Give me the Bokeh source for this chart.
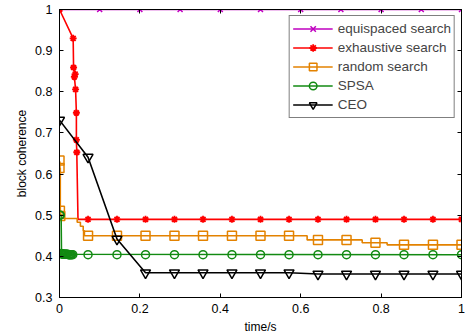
from bokeh.plotting import figure
from bokeh.models import LinearAxis, FixedTicker, Range1d, NumeralTickFormatter, CustomJSTickFormatter
from bokeh.embed import file_html
from bokeh.resources import INLINE

# ---- data ----
x_ticks = [0, 0.2, 0.4, 0.6, 0.8, 1]
y_ticks = [0.3, 0.4, 0.5, 0.6, 0.7, 0.8, 0.9, 1.0]

sample_t = [0.071, 0.143, 0.214, 0.286, 0.357, 0.429, 0.5, 0.571,
            0.643, 0.714, 0.786, 0.857, 0.929, 1.0]

# equispaced search
eq_t = [0, 0.1, 0.2, 0.3, 0.4, 0.5, 0.6, 0.7, 0.8, 0.9, 1.0]
eq_v = [1, 1, 1, 1, 1, 1, 1, 1, 1, 1, 1]

# exhaustive search
ex_line_t = [0, 0.034, 0.035, 0.039, 0.037, 0.040, 0.042, 0.042, 0.043, 0.046, 1.0]
ex_line_v = [1.0, 0.93, 0.859, 0.843, 0.836, 0.806, 0.749, 0.683, 0.653, 0.49, 0.49]
ex_mark_t = [0, 0.034, 0.035, 0.039, 0.037, 0.040, 0.042, 0.042, 0.043] + sample_t
ex_mark_v = [1.0, 0.93, 0.859, 0.843, 0.836, 0.806, 0.749, 0.683, 0.653] + [0.49] * 14

# random search (step curve, value holds until next change point)
rs_step_t = [0, 0.001, 0.002, 0.003, 0.010, 0.044, 0.052, 0.059, 0.062, 0.616, 0.753, 0.815, 1.0]
rs_step_v = [0.63, 0.615, 0.51, 0.50, 0.492, 0.483, 0.473, 0.462, 0.45, 0.44, 0.433, 0.428, 0.428]
rs_mark_t = [0, 0, 0.001, 0.002] + sample_t
rs_mark_v = [0.633, 0.615, 0.511, 0.498,
             0.45, 0.45, 0.45, 0.45, 0.45, 0.45, 0.45, 0.45,
             0.44, 0.44, 0.433, 0.428, 0.428, 0.428]

# SPSA
sp_line_t = [0, 0.004, 0.005, 1.0]
sp_line_v = [0.5, 0.5, 0.405, 0.404]
sp_mark_t = [0, 0.002, 0.004, 0.006, 0.008, 0.010, 0.012, 0.014, 0.016, 0.018,
             0.020, 0.022, 0.024, 0.026, 0.028, 0.030, 0.033] + sample_t
sp_mark_v = [0.5, 0.5, 0.407, 0.406, 0.406, 0.405, 0.405, 0.405, 0.405, 0.405,
             0.405, 0.404, 0.404, 0.404, 0.404, 0.404, 0.404] + [0.404] * 14

# CEO
ceo_t = [0, 0.071, 0.143, 0.214, 0.286, 0.357, 0.429, 0.5, 0.571,
         0.643, 0.714, 0.786, 0.857, 0.929, 1.0]
ceo_v = [0.731, 0.641, 0.442, 0.36, 0.36, 0.36, 0.36, 0.36, 0.36,
         0.357, 0.357, 0.357, 0.357, 0.357, 0.357]

C_MAG = "#BF00BF"
C_RED = "#FF0000"
C_ORA = "#E38200"
C_GRN = "#128A12"
C_BLK = "#000000"

FONT = "Liberation Sans"

p = figure(width=470, height=336, x_range=Range1d(0, 1), y_range=Range1d(0.3, 1),
           output_backend="svg", toolbar_location=None,
           min_border_left=59, min_border_right=9, min_border_top=9, min_border_bottom=38)
p.grid.visible = False
p.outline_line_color = "black"
p.background_fill_color = "white"
p.border_fill_color = "white"

LW = 1.6

p.line(eq_t, eq_v, color=C_MAG, line_width=LW, legend_label="equispaced search")
p.scatter(eq_t, eq_v, marker="x", size=7, line_color=C_MAG, line_width=1.5,
          legend_label="equispaced search")

p.line(ex_line_t, ex_line_v, color=C_RED, line_width=LW, legend_label="exhaustive search")
p.scatter(ex_mark_t, ex_mark_v, marker="asterisk", size=7, line_color=C_RED, line_width=1.8,
          legend_label="exhaustive search")

p.step(rs_step_t, rs_step_v, mode="after", color=C_ORA, line_width=LW, legend_label="random search")
p.scatter(rs_mark_t, rs_mark_v, marker="square", size=9, line_color=C_ORA, fill_color=None,
          line_width=1.5, legend_label="random search")

p.line(sp_line_t, sp_line_v, color=C_GRN, line_width=LW, legend_label="SPSA")
p.scatter(sp_mark_t, sp_mark_v, marker="circle", size=8, line_color=C_GRN, fill_color=None,
          line_width=1.5, legend_label="SPSA")

p.line(ceo_t, ceo_v, color=C_BLK, line_width=LW, legend_label="CEO")
p.scatter(ceo_t, ceo_v, marker="inverted_triangle", size=10, line_color=C_BLK, fill_color=None,
          line_width=1.5, legend_label="CEO")

# axes
for ax, ticks in ((p.xaxis[0], x_ticks), (p.yaxis[0], y_ticks)):
    ax.ticker = FixedTicker(ticks=ticks)
    ax.formatter = NumeralTickFormatter(format="0.[0]")
    ax.axis_line_color = "black"
    ax.major_tick_line_color = "black"
    ax.major_tick_in = 4
    ax.major_tick_out = 0
    ax.minor_tick_line_color = None
    ax.major_label_text_font = FONT
    ax.major_label_text_font_size = "12.5px"
    ax.major_label_text_color = "black"
    ax.axis_label_text_font = FONT
    ax.axis_label_text_font_size = "12px"
    ax.axis_label_text_font_style = "normal"
    ax.axis_label_text_color = "black"

p.xaxis[0].axis_label = "time/s"
p.yaxis[0].axis_label = "block coherence"
p.xaxis[0].major_label_standoff = 6
p.yaxis[0].major_label_standoff = 7
p.xaxis[0].axis_label_standoff = 4
p.yaxis[0].axis_label_standoff = 3

blank = CustomJSTickFormatter(code="return ''")
right = LinearAxis(ticker=FixedTicker(ticks=y_ticks), formatter=blank,
                   major_label_text_font_size="1px",
                   major_label_standoff=0, major_tick_in=4, major_tick_out=0,
                   minor_tick_line_color=None, axis_line_color="black")
top = LinearAxis(ticker=FixedTicker(ticks=x_ticks), formatter=blank,
                 major_label_text_font_size="1px",
                 major_label_standoff=0, major_tick_in=4, major_tick_out=0,
                 minor_tick_line_color=None, axis_line_color="black")
p.add_layout(right, "right")
p.add_layout(top, "above")

lg = p.legend[0]
lg.location = "top_right"
lg.margin = 6
lg.padding = 3
lg.spacing = 0
lg.glyph_width = 40
lg.glyph_height = 19
lg.label_height = 19
lg.label_standoff = 5
lg.label_text_font = FONT
lg.label_text_font_size = "13.5px"
lg.border_line_color = "black"
lg.border_line_width = 1
lg.background_fill_alpha = 1.0

open("out.html", "w").write(file_html(p, INLINE))
